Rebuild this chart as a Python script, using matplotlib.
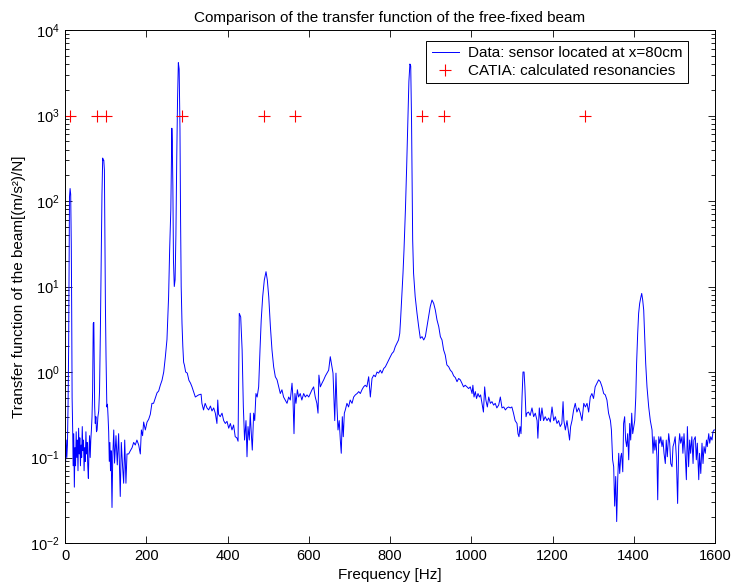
import matplotlib
matplotlib.use("Agg")
import matplotlib.pyplot as plt
from matplotlib.ticker import LogLocator, NullFormatter, MultipleLocator

plt.rcParams['font.family'] = ['Liberation Sans', 'DejaVu Sans']
plt.rcParams['mathtext.fontset'] = 'custom'
plt.rcParams['mathtext.rm'] = 'Liberation Sans'
plt.rcParams['mathtext.it'] = 'Liberation Sans'

# Measured transfer function (frequency in Hz, magnitude in (m/s^2)/N)
freq_hz = [
    0, 1.5, 3, 4.5, 6, 7.5, 9, 10, 11, 12.5, 14, 15.5, 16.5, 17.5, 19, 20, 21.5, 23, 24.5, 26,
    27.5, 29, 30.5, 32, 33.5, 35, 36.5, 38, 39.5, 41, 42.5, 44, 45.5, 47, 48.5, 50, 51.5, 53, 54.5, 56,
    57.5, 59, 60.5, 62, 63.5, 65, 66.5, 68, 69.5, 71, 72, 73, 74.5, 76, 77.5, 79, 81, 83, 85, 87,
    89.5, 91, 92.8, 94, 95.5, 97, 98.5, 99.5, 101, 103, 104.5, 106, 107.5, 109, 110.5, 112, 113.5, 115.7, 117.5, 120,
    122, 125.5, 128.7, 132, 136, 138.6, 142, 144.4, 147, 150, 152.6, 156.7, 160.8, 165, 169, 173, 177, 181.4, 185.4, 188,
    191, 193.6, 197.7, 202, 206, 210, 214, 218, 222, 226.5, 230.6, 234.6, 238.8, 243, 247, 251, 255, 257.6, 260.5, 262,
    263, 264, 265.5, 267, 269, 271, 273, 275, 277, 279, 281, 283, 284.5, 286, 288, 290, 292, 294, 297, 301,
    305, 309, 312.6, 320.8, 329, 335, 337, 341, 345, 349.5, 353.6, 358, 361.8, 366, 370, 374, 376, 378, 382, 386.5,
    390.6, 394.7, 398.8, 403, 407, 411, 415, 419, 423, 426, 429, 432.5, 436, 439, 442, 445.5, 448, 450.5, 453.7, 456,
    458.6, 461, 464.4, 467, 470, 473, 476.7, 480, 483, 486.6, 490.6, 494.8, 498, 501.5, 505.6, 509.5, 513.6, 517.7, 522, 526,
    530, 534, 538, 542, 546.5, 550.6, 554.6, 558.8, 561, 563.7, 566, 568.6, 572, 575, 579, 583, 587.5, 591.6, 595.7, 600,
    603.8, 608, 612, 616, 620, 622.8, 625, 628.5, 632.6, 636.8, 641, 645, 649, 653, 657, 659.7, 662, 664, 667, 669.5,
    672, 675, 677.7, 680, 682.6, 685, 687.6, 690, 694, 698, 702, 706.5, 710.6, 714.7, 719, 723, 727, 731, 735, 739,
    743, 747.5, 751.6, 755.7, 760, 764, 768, 772, 776, 780, 784.6, 788.6, 792.6, 796.8, 800.8, 805, 809, 813, 817, 821,
    824, 826, 829.5, 832, 834.5, 838, 841, 844, 846.5, 849, 851, 853, 855.8, 858, 862, 866.5, 870.6, 874.6, 878.8, 883,
    887, 891, 895, 899, 903.4, 907.5, 911.6, 915.7, 920, 924, 928, 932, 936, 940, 944.5, 948.5, 952.6, 956.8, 960.8, 965,
    969, 973, 977, 981, 985, 989.5, 993.6, 997.6, 1002, 1004, 1006.8, 1010, 1013, 1016.6, 1020, 1023, 1026.5, 1030, 1033, 1036,
    1039.6, 1043, 1047, 1051, 1055, 1059, 1063, 1067.5, 1071.6, 1075.7, 1080, 1084, 1088, 1092, 1096, 1100, 1104, 1108, 1112.6, 1115,
    1117.5, 1120, 1122.5, 1125, 1127.4, 1130, 1132, 1134.8, 1137, 1141, 1145, 1149.5, 1153.6, 1157.6, 1162, 1164, 1167.5, 1170.6, 1174, 1178,
    1182, 1186.5, 1190.6, 1194.6, 1198.8, 1203, 1207, 1211, 1215, 1219, 1223, 1226, 1228, 1231.6, 1235.7, 1240, 1242, 1244.6, 1248, 1252,
    1256, 1260, 1264.5, 1268.5, 1272.6, 1277, 1281, 1285, 1289, 1293, 1297, 1301, 1305, 1309.5, 1313.6, 1317.6, 1322, 1326, 1330, 1334,
    1338, 1342.6, 1345, 1348, 1350.6, 1353, 1355.6, 1358, 1360.5, 1363, 1365.4, 1368, 1370, 1373, 1375, 1377.6, 1380, 1382.6, 1385, 1387.6,
    1390, 1392.5, 1395, 1397.4, 1400, 1402.4, 1405, 1407, 1409.7, 1412, 1414.6, 1417, 1419.6, 1422, 1424.5, 1427, 1429.4, 1432.6, 1436.8, 1440.8,
    1445, 1447.4, 1450, 1452, 1454.8, 1457, 1459, 1461.5, 1464, 1466.6, 1469.5, 1472, 1474.5, 1477.7, 1480, 1482.6, 1486, 1488.5, 1491, 1494.2,
    1496.6, 1499, 1502, 1504.8, 1508, 1510.6, 1513, 1515.6, 1518.8, 1521, 1523.7, 1527, 1529.5, 1532, 1535, 1537.7, 1540, 1543, 1546, 1548,
    1551.5, 1554, 1556.5, 1560, 1562, 1565, 1568, 1570.5, 1573, 1576, 1579, 1581, 1584.6, 1587, 1589.5, 1592.6, 1595, 1597.5, 1600,
]
magnitude = [
    0.12, 0.09, 0.16, 0.1, 0.14, 0.4, 2, 20, 110, 140, 120, 30, 5, 0.5, 0.2, 0.08, 0.19, 0.045, 0.13, 0.08,
    0.2, 0.1, 0.16, 0.07, 0.22, 0.11, 0.17, 0.08, 0.14, 0.1, 0.23, 0.12, 0.16, 0.07, 0.13, 0.09, 0.2, 0.11, 0.15, 0.08,
    0.057, 0.12, 0.18, 0.1, 0.16, 0.21, 0.3, 0.6, 3.7, 3.8, 1.2, 0.4, 0.25, 0.3, 0.2, 0.21, 0.3, 0.35, 0.6, 2.8,
    32, 120, 318, 300, 300, 230, 30, 5.8, 1.5, 0.39, 0.42, 0.3, 0.2, 0.09, 0.15, 0.07, 0.12, 0.026, 0.1, 0.21,
    0.086, 0.18, 0.082, 0.19, 0.035, 0.15, 0.075, 0.05, 0.16, 0.05, 0.11, 0.11, 0.12, 0.13, 0.15, 0.14, 0.16, 0.14, 0.11, 0.21,
    0.18, 0.26, 0.21, 0.26, 0.28, 0.32, 0.43, 0.43, 0.49, 0.57, 0.6, 0.7, 0.8, 1.0, 1.5, 2.4, 7.6, 27, 80, 300,
    710, 500, 150, 20, 10, 12, 40, 300, 1500, 4150, 3500, 700, 60, 10, 3.7, 2.0, 1.3, 1.2, 1.0, 0.97,
    0.8, 0.74, 0.67, 0.51, 0.54, 0.55, 0.43, 0.36, 0.43, 0.38, 0.36, 0.4, 0.35, 0.38, 0.33, 0.25, 0.47, 0.32, 0.30, 0.33,
    0.27, 0.25, 0.265, 0.22, 0.25, 0.21, 0.24, 0.175, 0.17, 0.155, 4.85, 4.4, 1.81, 0.39, 0.16, 0.27, 0.102, 0.23, 0.16, 0.33,
    0.19, 0.122, 0.33, 0.27, 0.56, 0.51, 0.67, 1.81, 4.06, 7.6, 11.9, 14.9, 11.9, 7.6, 3.39, 1.81, 1.15, 0.88, 0.81, 0.67,
    0.56, 0.62, 0.51, 0.47, 0.43, 0.51, 0.47, 0.74, 0.51, 0.19, 0.56, 0.43, 0.62, 0.51, 0.56, 0.47, 0.56, 0.51, 0.54, 0.51,
    0.56, 0.62, 0.67, 0.51, 0.43, 0.33, 0.92, 0.67, 0.74, 0.81, 0.9, 0.97, 1.05, 1.51, 1.15, 0.97, 0.47, 0.27, 0.97, 0.39,
    0.21, 0.27, 0.16, 0.112, 0.30, 0.175, 0.33, 0.36, 0.43, 0.39, 0.47, 0.43, 0.51, 0.54, 0.56, 0.59, 0.56, 0.62, 0.67, 0.70,
    0.67, 0.88, 0.51, 0.84, 0.92, 0.88, 1.0, 0.97, 1.05, 0.97, 1.10, 1.15, 1.26, 1.38, 1.51, 1.65, 1.73, 1.98, 2.16, 2.37,
    2.83, 4.06, 8.3, 14.3, 27, 80, 250, 900, 2500, 4000, 3800, 900, 35, 14.3, 7.6, 4.85, 3.39, 2.48, 2.59, 2.37,
    2.59, 3.39, 4.4, 5.8, 6.95, 6.35, 5.3, 4.06, 3.39, 2.59, 2.37, 1.81, 1.58, 1.21, 1.15, 1.05, 1.0, 0.9, 0.86, 0.77,
    0.84, 0.81, 0.74, 0.67, 0.70, 0.67, 0.64, 0.67, 0.56, 0.70, 0.51, 0.59, 0.49, 0.56, 0.51, 0.54, 0.43, 0.34, 0.67, 0.47,
    0.39, 0.51, 0.43, 0.45, 0.41, 0.43, 0.38, 0.41, 0.51, 0.38, 0.39, 0.36, 0.38, 0.39, 0.38, 0.39, 0.33, 0.27, 0.25, 0.19,
    0.175, 0.23, 0.19, 0.51, 1.0, 1.0, 0.67, 0.30, 0.33, 0.34, 0.31, 0.38, 0.30, 0.33, 0.27, 0.168, 0.38, 0.27, 0.38, 0.27,
    0.30, 0.27, 0.29, 0.26, 0.39, 0.27, 0.30, 0.25, 0.27, 0.23, 0.25, 0.45, 0.27, 0.21, 0.27, 0.19, 0.16, 0.23, 0.27, 0.36,
    0.43, 0.34, 0.38, 0.33, 0.27, 0.43, 0.39, 0.43, 0.34, 0.51, 0.56, 0.49, 0.67, 0.74, 0.81, 0.77, 0.67, 0.56, 0.54, 0.47,
    0.33, 0.27, 0.21, 0.094, 0.078, 0.027, 0.06, 0.0178, 0.055, 0.112, 0.065, 0.102, 0.112, 0.068, 0.25, 0.30, 0.16, 0.134, 0.19, 0.094,
    0.25, 0.16, 0.33, 0.19, 0.23, 0.27, 0.51, 1.26, 2.83, 4.85, 6.35, 7.3, 8.3, 6.95, 5.3, 2.6, 1.26, 0.67, 0.39, 0.27,
    0.21, 0.112, 0.175, 0.122, 0.16, 0.102, 0.032, 0.175, 0.147, 0.175, 0.134, 0.16, 0.112, 0.085, 0.16, 0.102, 0.19, 0.147, 0.085, 0.078,
    0.134, 0.147, 0.175, 0.102, 0.029, 0.134, 0.19, 0.147, 0.175, 0.112, 0.19, 0.102, 0.055, 0.23, 0.078, 0.16, 0.112, 0.175, 0.085, 0.16,
    0.175, 0.094, 0.147, 0.055, 0.112, 0.065, 0.147, 0.085, 0.134, 0.112, 0.16, 0.134, 0.19, 0.147, 0.175, 0.16, 0.2, 0.21, 0.21,
]

# CATIA calculated resonance frequencies (plotted at 10^3)
catia_freq_hz = [12, 78, 100, 288, 489, 567, 879, 934, 1280]
catia_level = [1000] * len(catia_freq_hz)

title = "Comparison of the transfer function of the free-fixed beam"
xlabel = "Frequency [Hz]"
ylabel = "Transfer function of the beam[(m/s\u00b2)/N]"
legend_labels = ["Data: sensor located at x=80cm", "CATIA: calculated resonancies"]

fig = plt.figure(figsize=(7.33, 5.87), dpi=100)
ax = fig.add_axes([65 / 733, 44 / 587, 650 / 733, 513 / 587])

ax.semilogy(freq_hz, magnitude, color=(0, 0, 1), lw=0.7, label=legend_labels[0])
ax.semilogy(catia_freq_hz, catia_level, linestyle='none', marker='+', color='red',
            markersize=8.5, markeredgewidth=0.8, label=legend_labels[1])

ax.set_xlim(0, 1600)
ax.set_ylim(1e-2, 1e4)
ax.xaxis.set_major_locator(MultipleLocator(200))
ax.yaxis.set_major_locator(LogLocator(base=10, numticks=10))
ax.yaxis.set_minor_locator(LogLocator(base=10, subs=range(2, 10), numticks=20))
ax.yaxis.set_minor_formatter(NullFormatter())
ax.tick_params(which='both', direction='in', top=True, right=True, labelsize=10.5, width=0.6)
ax.tick_params(which='major', length=5, pad=4)
ax.tick_params(which='minor', length=3)
for s in ax.spines.values():
    s.set_linewidth(0.7)

ax.set_title(title, fontsize=11, pad=6)
ax.set_xlabel(xlabel, fontsize=11, labelpad=4)
ax.set_ylabel(ylabel, fontsize=11, labelpad=3)

leg = ax.legend(loc='upper right', fancybox=False, framealpha=1, edgecolor='black',
                fontsize=11, borderpad=0.35, labelspacing=0.25, handlelength=1.8,
                handletextpad=0.6, borderaxespad=0.7, bbox_to_anchor=(0.975, 1.0))
leg.get_frame().set_linewidth(0.7)

fig.savefig("out.png", dpi=100, facecolor='white')
